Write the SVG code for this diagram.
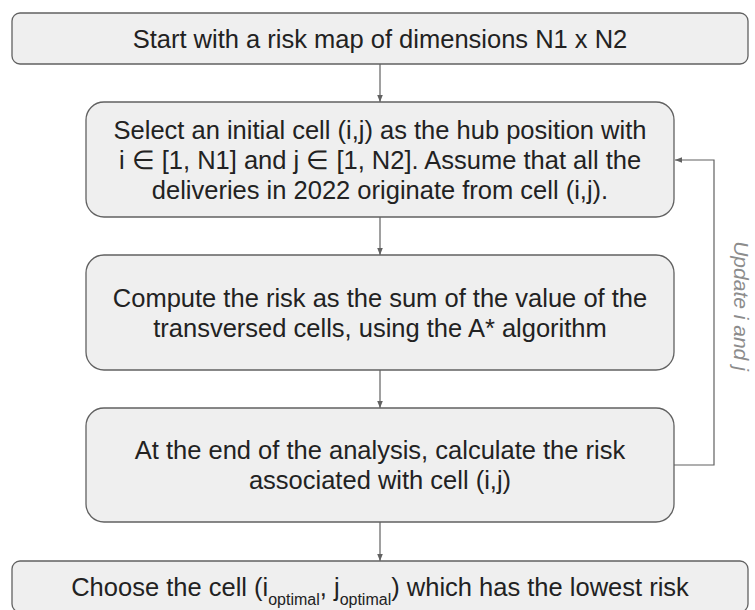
<svg xmlns="http://www.w3.org/2000/svg" width="755" height="610" viewBox="0 0 755 610">
<defs>
<style>
.box{fill:#efefef;stroke:#616161;stroke-width:1.3}
.t{font-family:"Liberation Sans",Arial,sans-serif;font-size:25.5px;fill:#222222;text-anchor:middle}
.c{fill:none;stroke:#616161;stroke-width:1.2}
.lbl{font-family:"Liberation Sans",Arial,sans-serif;font-size:21px;font-style:italic;fill:#8c8c8c;text-anchor:middle}
.sub{font-size:16px}
</style>
<marker id="ah" viewBox="0 0 10 10" refX="10" refY="5" markerWidth="7" markerHeight="7" orient="auto" markerUnits="userSpaceOnUse">
<path d="M0,1 L10,5 L0,9 Z" fill="#616161"/>
</marker>
</defs>
<rect width="755" height="610" fill="#ffffff"/>
<g id="connectors">
<line class="c" x1="380" y1="64" x2="380" y2="102" marker-end="url(#ah)"/>
<line class="c" x1="380" y1="217" x2="380" y2="255" marker-end="url(#ah)"/>
<line class="c" x1="380" y1="370" x2="380" y2="408" marker-end="url(#ah)"/>
<line class="c" x1="380" y1="522" x2="380" y2="561" marker-end="url(#ah)"/>
<polyline class="c" points="674,465 714,465 714,160 675,160" marker-end="url(#ah)"/>
<text class="lbl" transform="translate(734,306) rotate(90)">Update i and j</text>
</g>
<g id="n1">
<rect class="box" x="12" y="13" width="736" height="51" rx="8"/>
<text class="t" x="380" y="47.5">Start with a risk map of dimensions N1 x N2</text>
</g>
<g id="n2">
<rect class="box" x="86" y="102" width="588" height="115" rx="18"/>
<text class="t" x="380" y="138.5">Select an initial cell (i,j) as the hub position with</text>
<text class="t" x="380" y="168.5">i ∈ [1, N1] and j ∈ [1, N2]. Assume that all the</text>
<text class="t" x="380" y="198.5">deliveries in 2022 originate from cell (i,j).</text>
</g>
<g id="n3">
<rect class="box" x="86" y="255" width="588" height="115" rx="18"/>
<text class="t" x="380" y="306.5">Compute the risk as the sum of the value of the</text>
<text class="t" x="380" y="336.5">transversed cells, using the A* algorithm</text>
</g>
<g id="n4">
<rect class="box" x="86" y="408" width="588" height="114" rx="18"/>
<text class="t" x="380" y="459">At the end of the analysis, calculate the risk</text>
<text class="t" x="380" y="489">associated with cell (i,j)</text>
</g>
<g id="n5">
<rect class="box" x="12" y="561" width="736" height="51" rx="8"/>
<text class="t" x="380" y="596">Choose the cell (i<tspan class="sub" dy="9">optimal</tspan><tspan dy="-9">, j</tspan><tspan class="sub" dy="9">optimal</tspan><tspan dy="-9">) which has the lowest risk</tspan></text>
</g>
</svg>
